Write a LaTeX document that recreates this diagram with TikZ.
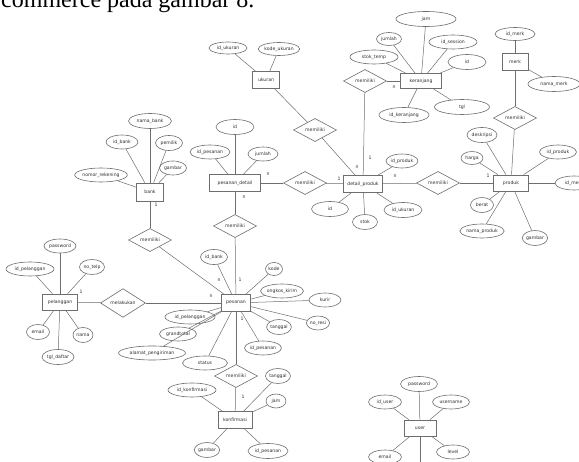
\documentclass[tikz,border=0pt]{standalone}
\usepackage{fontspec}
\setmainfont{Liberation Serif}
\newfontfamily\erfont{DejaVu Sans}
\usetikzlibrary{shapes.geometric}
\definecolor{erline}{HTML}{6E6E6E}
\definecolor{ertext}{HTML}{2E2E2E}
\tikzset{
  ertxt/.style={font=\erfont\fontsize{4.6}{5.5}\selectfont, text=ertext, inner sep=0pt},
  ent/.style n args={2}{ertxt, rectangle, draw=erline, line width=0.8pt,
    minimum width=#1pt, minimum height=#2pt},
  att/.style n args={2}{ertxt, ellipse, draw=erline, line width=0.6pt,
    minimum width=#1pt, minimum height=#2pt},
  rel/.style n args={2}{ertxt, diamond, draw=erline, line width=0.6pt,
    minimum width=#1pt, minimum height=#2pt},
  card/.style={ertxt},
  link/.style={draw=erline, line width=0.5pt},
  heading/.style={font=\fontsize{24}{28}\selectfont, inner sep=0pt, anchor=base west}
}
\begin{document}
\begin{tikzpicture}[x=1pt, y=-1pt]
\useasboundingbox (0,0) rectangle (579,462);
\fill[white] (0,0) rectangle (579,462);

% running text above the diagram
\node[heading] (hdr) at (1,7.5) {commerce pada gambar 8.};

% ---------- entities ----------
\node[ent={27}{17}] (ukuran) at (266,80) {ukuran};
\node[ent={41}{15}] (keranjang) at (421,81) {keranjang};
\node[ent={26}{17}] (merk) at (515,62) {merk};
\node[ent={51}{17}] (pdetail) at (235,183) {pesanan\_detail};
\node[ent={39}{17}] (dproduk) at (363,184) {detail\_produk};
\node[ent={35}{16}] (produk) at (511,183) {produk};
\node[ent={27}{18}] (bank) at (150,192) {bank};
\node[ent={35}{16}] (pelanggan) at (60,302) {pelanggan};
\node[ent={29}{17}] (pesanan) at (236,303) {pesanan};
\node[ent={34}{17}] (konfirmasi) at (235,420) {konfirmasi};
\node[ent={32}{16}] (user) at (420,428) {user};

% ---------- relationships ----------
\node[rel={43}{17}] (rUkuran) at (315,130) {memiliki};
\node[rel={43}{17}] (rKeranjang) at (365,81) {memiliki};
\node[rel={43}{17}] (rMerk) at (515,118) {memiliki};
\node[rel={43}{17}] (rDetail) at (305,183) {memiliki};
\node[rel={43}{17}] (rProduk) at (438,183) {memiliki};
\node[rel={43}{17}] (rPesanan) at (235,226) {memiliki};
\node[rel={43}{17}] (rBank) at (150,240) {memiliki};
\node[rel={45}{17}] (rLakukan) at (123,303) {melakukan};
\node[rel={43}{17}] (rKonf) at (236,376) {memiliki};

\draw[link] (rUkuran) -- (ukuran);
\draw[link] (rUkuran) -- (dproduk);
\draw[link] (rKeranjang) -- (keranjang);
\draw[link] (rKeranjang) -- (dproduk);
\draw[link] (rMerk) -- (merk);
\draw[link] (rMerk) -- (produk);
\draw[link] (rDetail) -- (pdetail);
\draw[link] (rDetail) -- (dproduk);
\draw[link] (rProduk) -- (dproduk);
\draw[link] (rProduk) -- (produk);
\draw[link] (rPesanan) -- (pdetail);
\draw[link] (rPesanan) -- (pesanan);
\draw[link] (rBank) -- (bank);
\draw[link] (rBank) -- (pesanan);
\draw[link] (rLakukan) -- (pelanggan);
\draw[link] (rLakukan) -- (pesanan);
\draw[link] (rKonf) -- (pesanan);
\draw[link] (rKonf) -- (konfirmasi);

% ---------- attributes: ukuran ----------
\node[att={38}{12}] (uk1) at (228,48) {id\_ukuran};
\node[att={40}{13}] (uk2) at (279,49) {kode\_ukuran};
\foreach \a in {uk1,uk2} \draw[link] (\a) -- (ukuran);

% ---------- attributes: keranjang ----------
\node[att={60}{15}] (kr1) at (426,19) {jam};
\node[att={25}{13}] (kr2) at (389,39) {jumlah};
\node[att={48}{14}] (kr3) at (453,42) {id\_session};
\node[att={48}{14}] (kr4) at (374,57) {stok\_temp};
\node[att={38}{15}] (kr5) at (467,62) {id};
\node[att={55}{15}] (kr6) at (462,107) {tgl};
\node[att={50}{15}] (kr7) at (404,115) {id\_keranjang};
\foreach \a in {kr1,kr2,kr3,kr4,kr5,kr6,kr7} \draw[link] (\a) -- (keranjang);

% ---------- attributes: merk ----------
\node[att={40}{13}] (mk1) at (515,34) {id\_merk};
\node[att={52}{15}] (mk2) at (554,84) {nama\_merk};
\foreach \a in {mk1,mk2} \draw[link] (\a) -- (merk);

% ---------- attributes: pesanan_detail ----------
\node[att={38}{15}] (pd1) at (235,127) {id};
\node[att={40}{14}] (pd2) at (210,152) {id\_pesanan};
\node[att={30}{14}] (pd3) at (263,154) {jumlah};
\foreach \a in {pd1,pd2,pd3} \draw[link] (\a) -- (pdetail);

% ---------- attributes: detail_produk ----------
\node[att={32}{14}] (dp1) at (402,161) {id\_produk};
\node[att={37}{15}] (dp2) at (330,209) {id};
\node[att={25}{15}] (dp3) at (365,222) {stok};
\node[att={38}{15}] (dp4) at (403,210) {id\_ukuran};
\foreach \a in {dp1,dp2,dp3,dp4} \draw[link] (\a) -- (dproduk);

% ---------- attributes: produk ----------
\node[att={30}{15}] (pr1) at (482,135) {deskripsi};
\node[att={22}{13}] (pr2) at (472,158) {harga};
\node[att={37}{14}] (pr3) at (558,152) {id\_produk};
\node[att={38}{14}] (pr4) at (574,183) {id\_merk};
\node[att={23}{15}] (pr5) at (482,205) {berat};
\node[att={42}{14}] (pr6) at (482,231) {nama\_produk};
\node[att={23}{15}] (pr7) at (535,238) {gambar};
\foreach \a in {pr1,pr2,pr3,pr4,pr5,pr6,pr7} \draw[link] (\a) -- (produk);

% ---------- attributes: bank ----------
\node[att={43}{15}] (bk1) at (150,121) {nama\_bank};
\node[att={32}{14}] (bk2) at (122,142) {id\_bank};
\node[att={27}{15}] (bk3) at (169,143) {pemilik};
\node[att={27}{14}] (bk4) at (173,168) {gambar};
\node[att={52}{14}] (bk5) at (101,175) {nomor\_rekening};
\foreach \a in {bk1,bk2,bk3,bk4,bk5} \draw[link] (\a) -- (bank);

% ---------- attributes: pelanggan ----------
\node[att={32}{14}] (pl1) at (60,246) {password};
\node[att={48}{14}] (pl2) at (30,269) {id\_pelanggan};
\node[att={25}{15}] (pl3) at (92,267) {no\_telp};
\node[att={23}{15}] (pl4) at (38,332) {email};
\node[att={20}{15}] (pl5) at (83,335) {nama};
\node[att={32}{15}] (pl6) at (58,357) {tgl\_daftar};
\foreach \a in {pl1,pl2,pl3,pl4,pl5,pl6} \draw[link] (\a) -- (pelanggan);

% ---------- attributes: pesanan ----------
\node[att={27}{15}] (ps1) at (214,257) {id\_bank};
\node[att={17}{13}] (ps2) at (274,269) {kode};
\node[att={43}{14}] (ps3) at (282,291) {ongkos\_kirim};
\node[att={32}{14}] (ps4) at (325,300) {kurir};
\node[att={23}{14}] (ps5) at (318,323) {no\_resi};
\node[att={23}{15}] (ps6) at (279,327) {tanggal};
\node[att={37}{14}] (ps7) at (263,348) {id\_pesanan};
\node[att={50}{14}] (ps8) at (190,317) {id\_pelanggan};
\node[att={37}{14}] (ps9) at (178,334) {grandtotal};
\node[att={67}{14}] (ps10) at (152,353) {alamat\_pengiriman};
\node[att={45}{14}] (ps11) at (205,363) {status};
\foreach \a in {ps1,ps2,ps3,ps4,ps5,ps6,ps7,ps8,ps9,ps10,ps11} \draw[link] (\a) -- (pesanan);

% ---------- attributes: konfirmasi ----------
\node[att={48}{14}] (kf1) at (192,390) {id\_konfirmasi};
\node[att={25}{15}] (kf2) at (278,376) {tanggal};
\node[att={20}{14}] (kf3) at (276,401) {jam};
\node[att={25}{15}] (kf4) at (207,450) {gambar};
\node[att={40}{15}] (kf5) at (268,451) {id\_pesanan};
\foreach \a in {kf1,kf2,kf3,kf4,kf5} \draw[link] (\a) -- (konfirmasi);

% ---------- attributes: user ----------
\node[att={37}{15}] (us1) at (419,384) {password};
\node[att={33}{14}] (us2) at (385,402) {id\_user};
\node[att={37}{14}] (us3) at (451,402) {username};
\node[att={33}{14}] (us4) at (385,457) {email};
\node[att={33}{14}] (us5) at (453,452) {level};
\coordinate (usDown) at (420,470);
\foreach \a in {us1,us2,us3,us4,us5} \draw[link] (\a) -- (user);
\draw[link] (user) -- (usDown);

% ---------- cardinalities ----------
\node[card] (c1) at (394,87) {n};
\node[card] (c2) at (370,158) {1};
\node[card] (c3) at (357,167) {n};
\node[card] (c4) at (268,174) {n};
\node[card] (c5) at (244,197) {n};
\node[card] (c6) at (339,179) {1};
\node[card] (c7) at (395,176) {n};
\node[card] (c8) at (488,176) {1};
\node[card] (c9) at (156,205) {1};
\node[card] (c10) at (81,292) {1};
\node[card] (c11) at (219,280) {n};
\node[card] (c12) at (240,280) {1};
\node[card] (c13) at (211,296) {n};
\node[card] (c14) at (242,319) {1};
\node[card] (c15) at (243,397) {1};
\end{tikzpicture}
\end{document}
